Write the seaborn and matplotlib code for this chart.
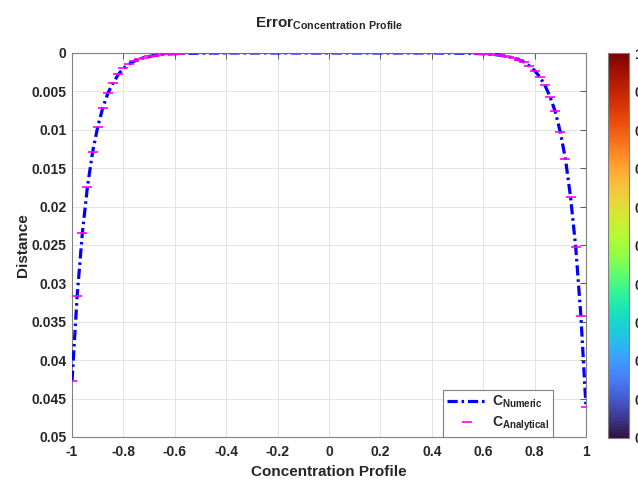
import numpy as np
import matplotlib
matplotlib.use("Agg")
import matplotlib.pyplot as plt
import seaborn as sns

# ===============================
# Data
# ===============================
x_grid = np.round(np.arange(-1.0, 1.0001, 0.02), 2)

conc_left = [0.0427, 0.0316, 0.0235, 0.0174, 0.0129, 0.0096, 0.0071, 0.0052,
             0.0039, 0.0028, 0.0020, 0.0015, 0.0011, 0.0008, 0.0006, 0.00045,
             0.00033, 0.00024, 0.00018, 0.00013, 0.0001]
conc_mid = [0.00007, 0.00005, 0.00004, 0.00003, 0.00002, 0.00002, 0.00001, 0.00001,
            0.0, 0.0, 0.0, 0.0, 0.0, 0.0, 0.0, 0.0, 0.0, 0.0, 0.0,
            0.0, 0.0, 0.0, 0.0, 0.0, 0.0, 0.0, 0.0, 0.0, 0.0, 0.0, 0.0,
            0.0, 0.0, 0.0, 0.0, 0.0, 0.0, 0.0, 0.0, 0.0, 0.0, 0.0, 0.0,
            0.0, 0.0, 0.0, 0.0, 0.0, 0.0, 0.0, 0.0,
            0.00001, 0.00001, 0.00002, 0.00002, 0.00003, 0.00004, 0.00006, 0.00008]
conc_right = [0.0001, 0.00014, 0.0002, 0.00027, 0.00037, 0.0005, 0.00068, 0.0009,
              0.0012, 0.0017, 0.0023, 0.0031, 0.0042, 0.0057, 0.0076, 0.0103,
              0.0138, 0.0188, 0.0253, 0.0342, 0.0461]

conc_numeric = conc_left + conc_mid + conc_right
conc_analytical = list(conc_numeric)

y_ticks = [0, 0.005, 0.01, 0.015, 0.02, 0.025, 0.03, 0.035, 0.04, 0.045, 0.05]
x_ticks = [-1, -0.8, -0.6, -0.4, -0.2, 0, 0.2, 0.4, 0.6, 0.8, 1]
cbar_ticks = [0, 0.1, 0.2, 0.3, 0.4, 0.5, 0.6, 0.7, 0.8, 0.9, 1]

# ===============================
# Style
# ===============================
sns.set_style("white")
plt.rcParams["font.family"] = ["Liberation Sans", "DejaVu Sans"]
plt.rcParams["font.weight"] = "bold"
plt.rcParams["mathtext.fontset"] = "custom"
plt.rcParams["mathtext.rm"] = "Liberation Sans:bold"
plt.rcParams["mathtext.bf"] = "Liberation Sans:bold"
plt.rcParams["mathtext.default"] = "rm"

fig = plt.figure(figsize=(6.38, 4.82), dpi=100)
ax = fig.add_axes([0.1129, 0.0934, 0.8056, 0.7967])
cax = fig.add_axes([0.953, 0.0913, 0.033, 0.7987])

sns.lineplot(x=x_grid, y=conc_numeric, ax=ax, color="#0000ff", linewidth=2.3,
             linestyle=(0, (3.2, 1.2, 0.8, 1.2)), label=r"$C_{Numeric}$",
             sort=False, zorder=3)
sns.lineplot(x=x_grid, y=conc_analytical, ax=ax, color="#ff00ff", linestyle="none",
             marker="_", markersize=6.5, markeredgewidth=1.2, markeredgecolor="#ff00ff",
             label=r"$C_{Analytical}$", sort=False, zorder=4)

ax.set_xlim(-1, 1)
ax.set_ylim(0.05, 0)
ax.set_xticks(x_ticks)
ax.set_yticks(y_ticks)
ax.set_xticklabels([f"{v:g}" for v in x_ticks])
ax.set_yticklabels([f"{v:g}" for v in y_ticks])
ax.tick_params(direction="in", length=4, width=0.6, color="#404040",
               labelsize=10, top=True, right=True, pad=4)
ax.tick_params(axis="x", pad=6)
for lbl in ax.get_xticklabels() + ax.get_yticklabels():
    lbl.set_fontweight("bold")
ax.grid(True, color="#e3e3e3", linewidth=0.7)
for sp in ax.spines.values():
    sp.set_color("#808080")
    sp.set_linewidth(0.8)

ax.set_xlabel("Concentration Profile", fontsize=11, fontweight="bold", labelpad=4)
ax.set_ylabel("Distance", fontsize=11, fontweight="bold", labelpad=1)
ax.set_title(r"$\mathrm{Error}_{\mathrm{Concentration\ Profile}}$", fontsize=11, pad=18)

leg = ax.legend(loc="lower right", bbox_to_anchor=(0.936, 0.0), borderaxespad=0,
                frameon=True, fancybox=False, fontsize=10, handlelength=2.8,
                handletextpad=0.4, labelspacing=0.3, borderpad=0.3,
                edgecolor="#808080", framealpha=1)
leg.get_frame().set_linewidth(0.8)

# colorbar
sm = plt.cm.ScalarMappable(cmap="turbo", norm=plt.Normalize(0, 1))
cb = fig.colorbar(sm, cax=cax, ticks=cbar_ticks)
cb.ax.set_yticklabels([f"{v:g}" for v in cbar_ticks])
cb.ax.tick_params(direction="in", length=4, width=0.6, labelsize=10, pad=4)
for lbl in cb.ax.get_yticklabels():
    lbl.set_fontweight("bold")
cb.outline.set_edgecolor("#808080")
cb.outline.set_linewidth(0.8)

fig.savefig("out.png", dpi=100)
